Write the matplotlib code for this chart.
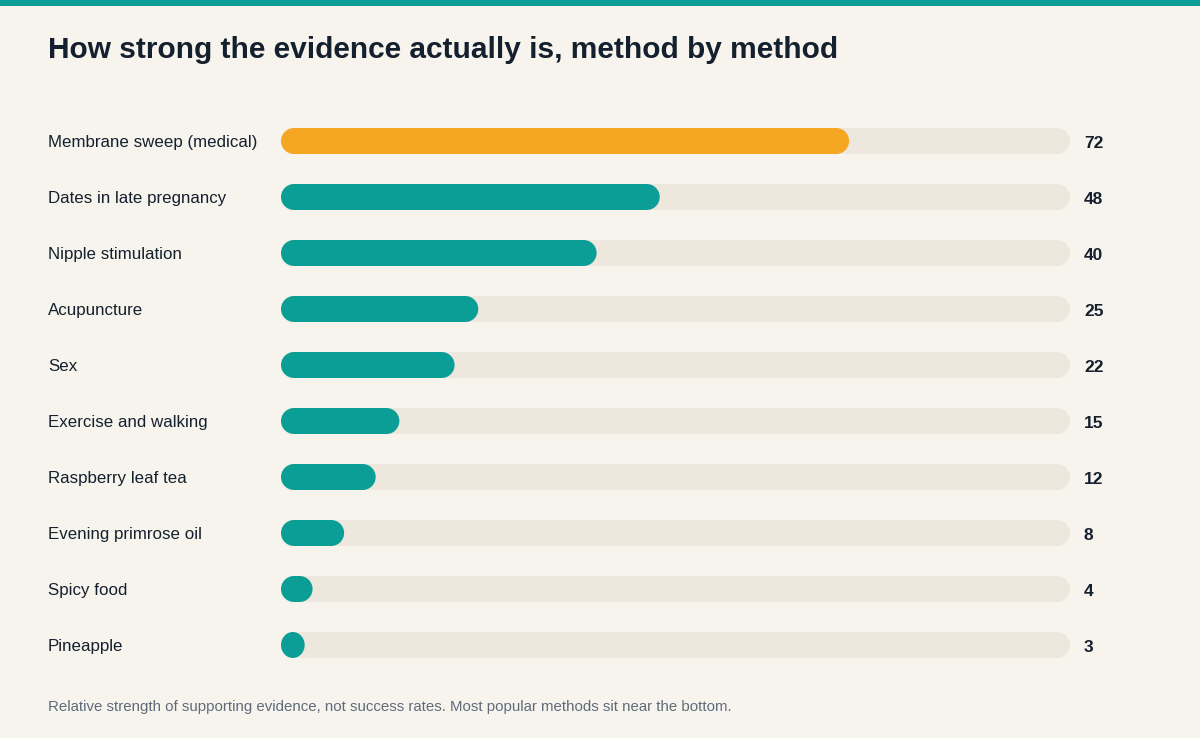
import matplotlib
matplotlib.use("Agg")
import matplotlib.pyplot as plt
from matplotlib.patches import PathPatch, Rectangle
from matplotlib.path import Path

methods = ["Membrane sweep (medical)", "Dates in late pregnancy", "Nipple stimulation",
           "Acupuncture", "Sex", "Exercise and walking", "Raspberry leaf tea",
           "Evening primrose oil", "Spicy food", "Pineapple"]
scores = [72, 48, 40, 25, 22, 15, 12, 8, 4, 3]
highlight = ["Membrane sweep (medical)"]
track_max = 100

title = "How strong the evidence actually is, method by method"
footnote = "Relative strength of supporting evidence, not success rates. Most popular methods sit near the bottom."

BG = "#f7f4ee"
TEAL = "#0b9e96"
ORANGE = "#f5a623"
TRACK = "#ede7de"
DARK = "#14202e"
GRAY = "#5f6b7a"

plt.rcParams['font.family'] = ['Liberation Sans', 'DejaVu Sans']

W, H = 1200, 738
fig = plt.figure(figsize=(W / 100, H / 100), dpi=100)
fig.patch.set_facecolor(BG)

# top stripe
fig.add_artist(Rectangle((0, 1 - 6 / H), 1, 6 / H, transform=fig.transFigure,
                         facecolor=TEAL, edgecolor='none'))

fig.text(48 / W, 1 - 50.5 / H, title, fontsize=21.5, fontweight='bold', color=DARK,
         va='center', ha='left')
fig.text(48 / W, 1 - 707 / H, footnote, fontsize=10.85, color=GRAY, va='center', ha='left')

# axes over the track area
x0, x1 = 281, 1070
row_h = 56
first_c = 141
n = len(methods)
top = first_c - row_h / 2
bottom = top + n * row_h
ax = fig.add_axes([x0 / W, 1 - bottom / H, (x1 - x0) / W, (bottom - top) / H])
ax.set_xlim(0, track_max)
ax.set_ylim(n - 0.5, -0.5)
ax.axis('off')
ax.patch.set_alpha(0)

px_per_x = (x1 - x0) / track_max
px_per_y = row_h
bar_h_px = 26
bh = bar_h_px / px_per_y
r_x = (bar_h_px / 2) / px_per_x
K = 0.5523


def pill(x, y, w, color):
    rx = min(r_x, w / 2)
    ry = bh / 2
    ya, yb = y - ry, y + ry
    xa, xb = x, x + w
    verts = [
        (xa + rx, ya),
        (xb - rx, ya),
        (xb - rx + K * rx, ya), (xb, y - K * ry), (xb, y),
        (xb, y + K * ry), (xb - rx + K * rx, yb), (xb - rx, yb),
        (xa + rx, yb),
        (xa + rx - K * rx, yb), (xa, y + K * ry), (xa, y),
        (xa, y - K * ry), (xa + rx - K * rx, ya), (xa + rx, ya),
        (xa + rx, ya),
    ]
    codes = [Path.MOVETO, Path.LINETO,
             Path.CURVE4, Path.CURVE4, Path.CURVE4,
             Path.CURVE4, Path.CURVE4, Path.CURVE4,
             Path.LINETO,
             Path.CURVE4, Path.CURVE4, Path.CURVE4,
             Path.CURVE4, Path.CURVE4, Path.CURVE4,
             Path.CLOSEPOLY]
    ax.add_patch(PathPatch(Path(verts, codes), facecolor=color, edgecolor='none',
                           clip_on=False))


for i, (m, v) in enumerate(zip(methods, scores)):
    pill(0, i, track_max, TRACK)
    pill(0, i, v, ORANGE if m in highlight else TEAL)
    yc = first_c + i * row_h
    fig.text(48 / W, 1 - (yc + 1.5) / H, m, fontsize=12.2, color=DARK, va='center', ha='left')
    fig.text(1084 / W, 1 - (yc + 2.5) / H, str(v), fontsize=12.5,
             fontweight='bold', color=DARK, va='center', ha='left')

fig.savefig("out.png", dpi=100, facecolor=BG)
